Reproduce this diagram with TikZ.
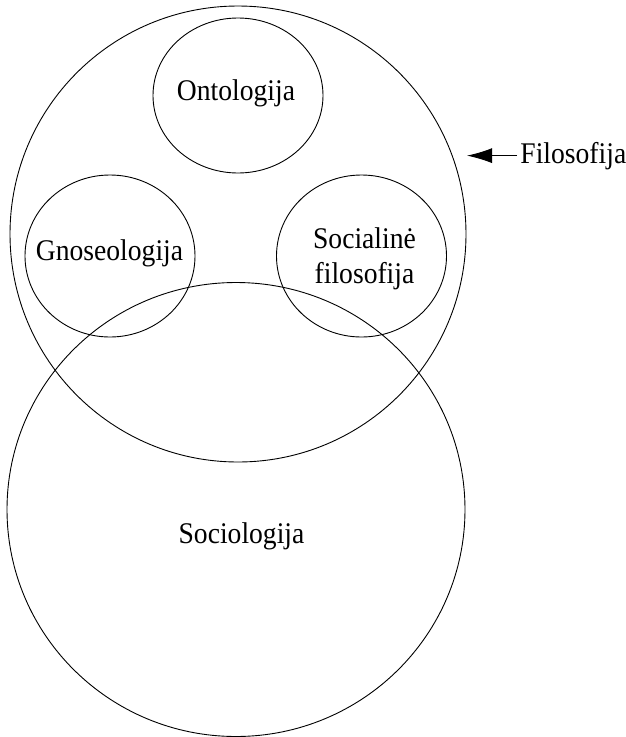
\documentclass[tikz,border=0pt]{standalone}
\usepackage{fontspec}
\setmainfont{Liberation Serif}[FakeStretch=0.92]
\usetikzlibrary{arrows.meta}

\begin{document}
\begin{tikzpicture}[x=1pt,y=-1pt,line width=0.9pt,
    font={\fontsize{30}{35}\selectfont},
    every node/.style={inner sep=3pt}]
    \useasboundingbox (0,0) rectangle (626,737);
    % outer field and the overlapping one
    \draw (238,234) circle (228);
    \draw (236,509.5) ellipse (229 and 227);
    % the three branches
    \draw (238,95.5) ellipse (85 and 77.5);
    \draw (110,256) ellipse (85 and 81);
    \draw (361.5,256) ellipse (85 and 81);
    \node[anchor=base] (onto) at (236,100) {Ontologija};
    \node[anchor=base] (gnos) at (109.5,260.5) {Gnoseologija};
    \node[align=center] (socfil) at (364.5,258.5) {Socialinė\\filosofija};
    \node[anchor=base] (socio) at (241.5,543) {Sociologija};
    \node[anchor=base west] (filos) at (517,163) {Filosofija};
    \coordinate (tip) at (467,158);
    \draw[-{Latex[length=25pt,width=15pt]}] (filos.west) -- (tip |- filos.west);
\end{tikzpicture}
\end{document}
